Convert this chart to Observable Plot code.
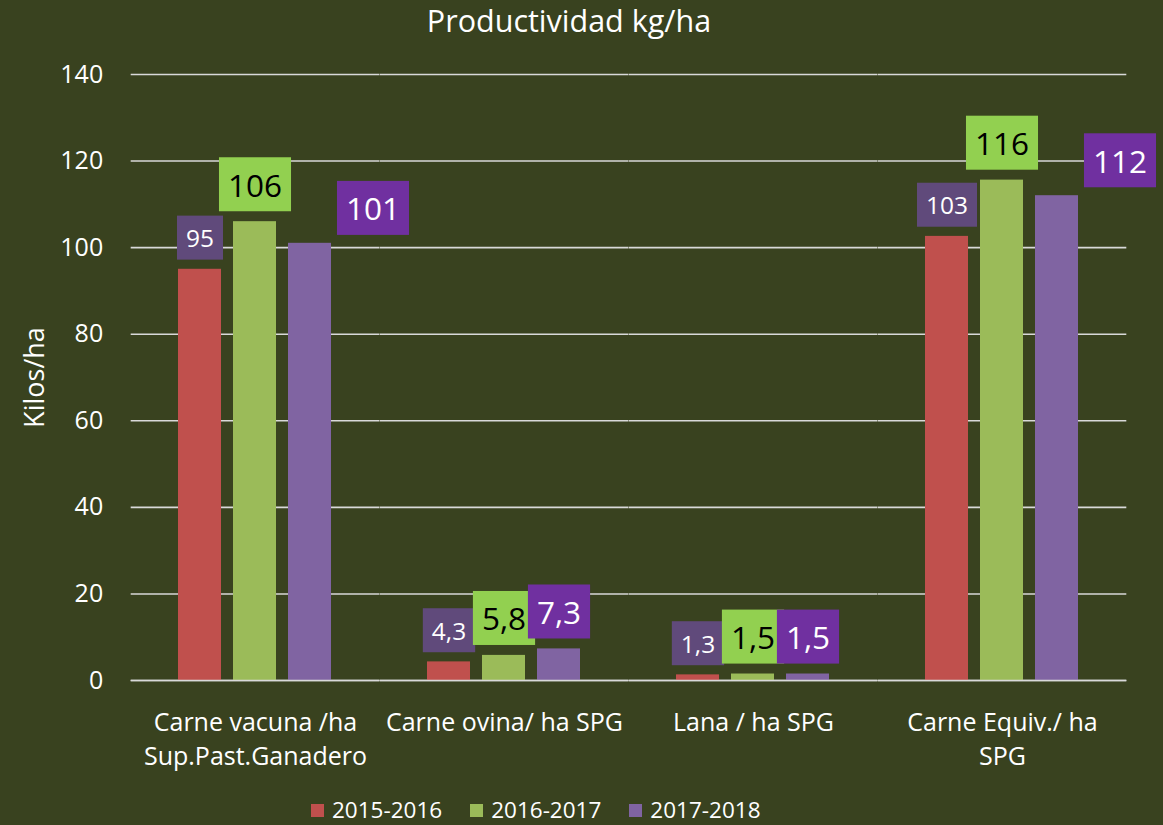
<!DOCTYPE html>
<html>
<head>
<meta charset="utf-8">
<script src="https://cdn.jsdelivr.net/npm/d3@7"></script>
<script src="https://cdn.jsdelivr.net/npm/@observablehq/plot@0.6"></script>
<style>
  body { margin: 0; background: #39421f; }
  #chart { position: relative; width: 1163px; height: 825px; background: #39421f; font-family: "Open Sans", sans-serif; color: #fff; overflow: hidden; }
  #title { position: absolute; top: 0; left: 0; width: 1138px; text-align: center; font-size: 30.5px; line-height: 40px; }
  #plot { position: absolute; top: 44px; left: 0; }
  #legend { position: absolute; top: 795px; left: 311px; display: flex; font-size: 22.5px; line-height: 30px; }
  #legend .item { display: flex; align-items: center; margin-right: 28px; }
  #legend .sw { width: 13px; height: 13px; margin-right: 8px; }
</style>
</head>
<body>
<div id="chart">
  <div id="title">Productividad kg/ha</div>
  <div id="plot"></div>
  <div id="legend"></div>
</div>
<script>
const categories = ["Carne vacuna /ha\nSup.Past.Ganadero", "Carne ovina/ ha SPG", "Lana / ha SPG", "Carne Equiv./ ha\nSPG"];
const seasons = ["2015-2016", "2016-2017", "2017-2018"];
const values2015 = [95, 4.3, 1.3, 102.6];
const values2016 = [106, 5.8, 1.5, 115.6];
const values2017 = [101, 7.3, 1.5, 112];
const yTicks = [0, 20, 40, 60, 80, 100, 120, 140];
const yLabel = "Kilos/ha";
const barColors = ["#c0504d", "#9bbb59", "#8064a2"];
const labelBoxColors = ["#604a7b", "#92d050", "#7030a0"];
const labelTextColors = ["#ffffff", "#000000", "#ffffff"];

const rows = [];
[values2015, values2016, values2017].forEach((vals, s) =>
  vals.forEach((v, i) => rows.push({category: categories[i], season: seasons[s], value: v, si: s, ci: i}))
);
const fmt = v => v >= 10 ? String(Math.round(v)) : v.toFixed(1).replace(".", ",");

const width = 1163, marginLeft = 131, marginRight = 36;
const fxPad = 0.38;
const step = (width - marginLeft - marginRight) / categories.length;
const gapHalf = step * fxPad / 2; // half of the gap between facet frames

const plot = Plot.plot({
  width,
  height: 740,
  marginLeft,
  marginRight,
  marginTop: 30,
  marginBottom: 104,
  style: {background: "transparent", color: "#ffffff", fontFamily: "'Open Sans', sans-serif", fontSize: "24px", overflow: "visible"},
  fx: {domain: categories, paddingInner: fxPad, paddingOuter: fxPad / 2, label: null},
  x: {domain: seasons, paddingInner: 0.21, paddingOuter: 0, axis: null},
  y: {domain: [0, 140], axis: null},
  color: {domain: seasons, range: barColors},
  marks: [
    Plot.ruleY(yTicks, {stroke: "#d9d9d9", strokeWidth: 1.6, insetLeft: -gapHalf, insetRight: -gapHalf}),
    Plot.barY(rows, {fx: "category", x: "season", y: "value", fill: "season"}),
    Plot.ruleY([0], {stroke: "#d9d9d9", strokeWidth: 1.6, insetLeft: -gapHalf, insetRight: -gapHalf}),
    Plot.text(rows.filter(d => d.si === 0), {fx: "category", x: "season", y: "value", text: d => fmt(d.value), fill: labelTextColors[0], fontSize: 24.5, lineAnchor: "middle", dy: -30, className: "lbl0"}),
    Plot.text(rows.filter(d => d.si === 1), {fx: "category", x: "season", y: "value", text: d => fmt(d.value), fill: labelTextColors[1], fontSize: 31.5, lineAnchor: "middle", dy: -35, className: "lbl1"}),
    Plot.text(rows.filter(d => d.si === 2 && (d.ci === 1 || d.ci === 2)), {fx: "category", x: "season", y: "value", text: d => fmt(d.value), fill: labelTextColors[2], fontSize: 31.5, lineAnchor: "middle", dy: -35, className: "lbl2"}),
    Plot.text(rows.filter(d => d.si === 2 && (d.ci === 0 || d.ci === 3)), {fx: "category", x: "season", y: "value", text: d => fmt(d.value), fill: labelTextColors[2], fontSize: 31.5, lineAnchor: "middle", dy: -33, dx: 63, className: "lbl2"}),
    Plot.axisY({ticks: yTicks, tickSize: 0, tickPadding: 28 + gapHalf, fontSize: 25, label: null}),
    Plot.axisY({ticks: [], tickSize: 0, fontSize: 27, label: yLabel, labelAnchor: "center", labelOffset: 106 + gapHalf, labelArrow: "none"}),
    Plot.axisFx({anchor: "bottom", tickSize: 0, tickPadding: 26, fontSize: 25, lineHeight: 1.38, label: null})
  ]
});
document.getElementById("plot").appendChild(plot);

// label boxes behind data labels
const boxHeights = [44, 54, 54];
[0, 1, 2].forEach(s => {
  plot.querySelectorAll(`g.lbl${s} text`).forEach(t => {
    const b = t.getBBox();
    const r = document.createElementNS("http://www.w3.org/2000/svg", "rect");
    const h = boxHeights[s];
    r.setAttribute("x", b.x - 9);
    r.setAttribute("width", b.width + 18);
    r.setAttribute("y", b.y + b.height / 2 - h / 2);
    r.setAttribute("height", h);
    r.setAttribute("fill", labelBoxColors[s]);
    if (t.getAttribute("transform")) r.setAttribute("transform", t.getAttribute("transform"));
    t.parentNode.insertBefore(r, t);
  });
});

// legend
const legend = document.getElementById("legend");
seasons.forEach((s, i) => {
  const item = document.createElement("div");
  item.className = "item";
  const sw = document.createElement("span");
  sw.className = "sw";
  sw.style.background = barColors[i];
  const tx = document.createElement("span");
  tx.textContent = s;
  item.appendChild(sw);
  item.appendChild(tx);
  legend.appendChild(item);
});
</script>
</body>
</html>
